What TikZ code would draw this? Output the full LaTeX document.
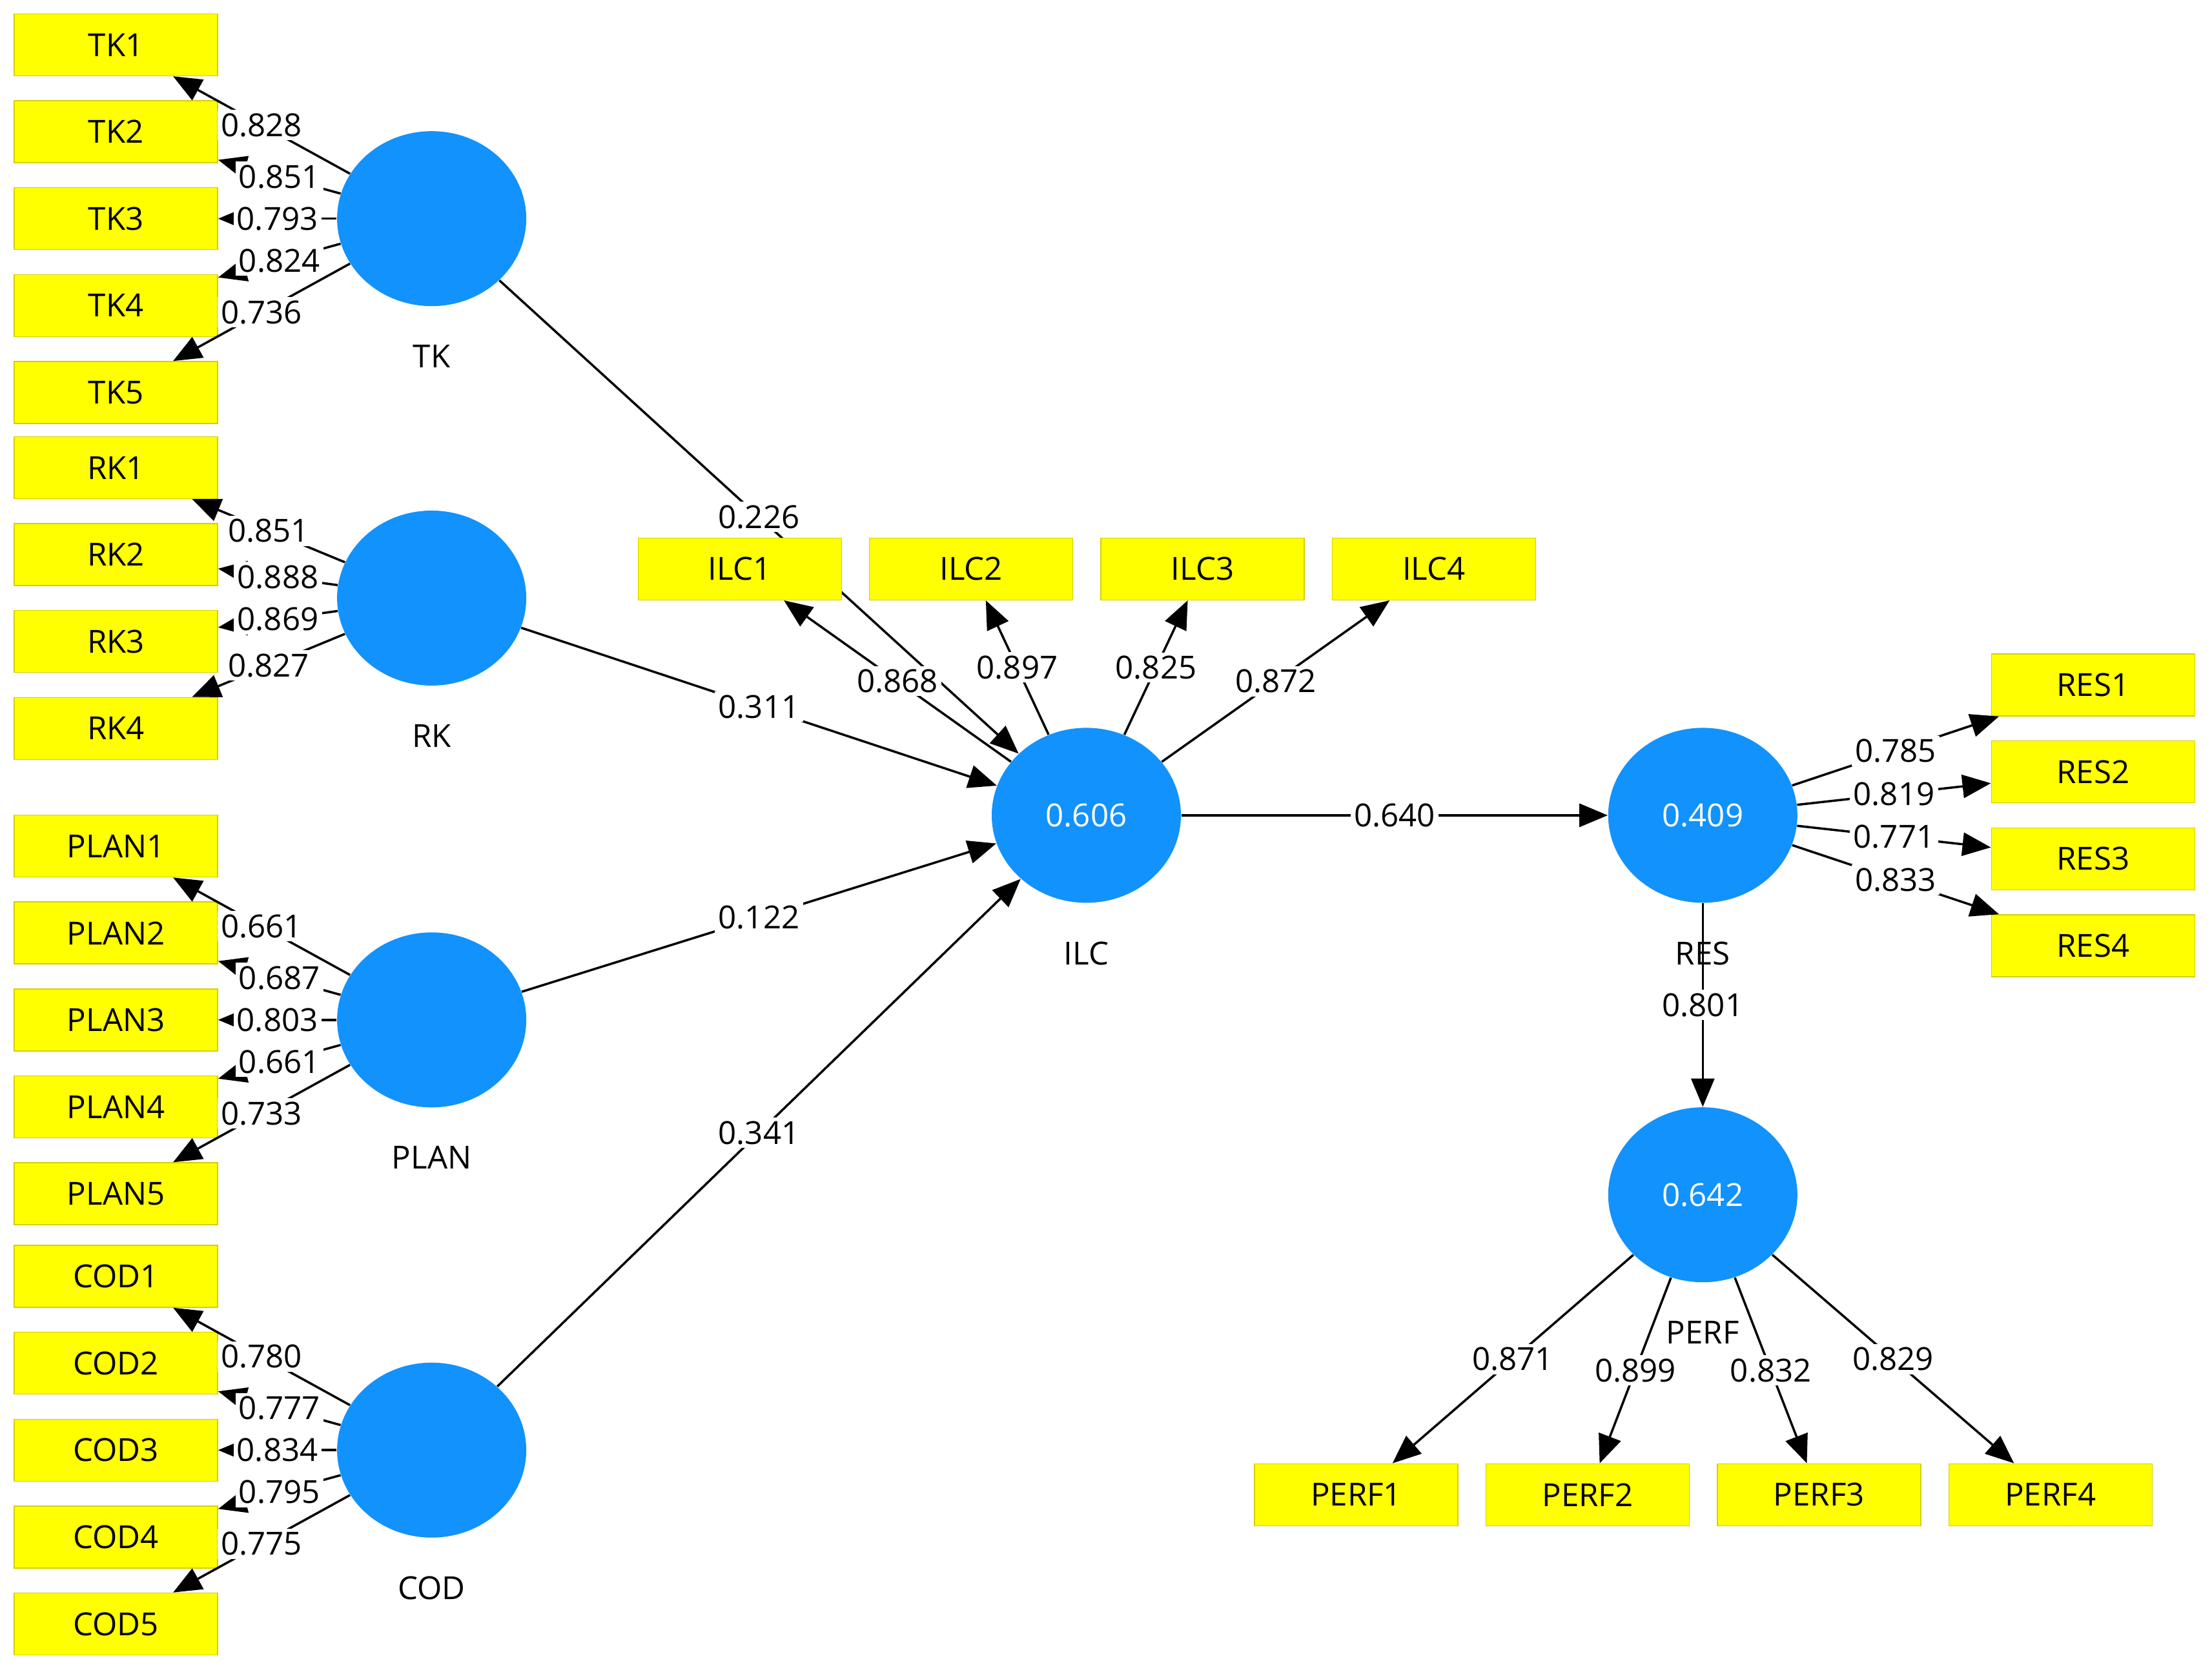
\documentclass[tikz,border=0pt]{standalone}
\usepackage{fontspec}
\setmainfont{Open Sans}
\usepackage{tikz}
\usetikzlibrary{shapes.geometric, arrows.meta, calc, positioning, backgrounds}
\definecolor{boxfill}{RGB}{255,255,0}
\definecolor{boxline}{RGB}{214,206,0}
\definecolor{lvblue}{RGB}{18,146,252}
\tikzstyle{indicator} = [rectangle, draw=boxline, fill=boxfill, minimum width=3.15cm, minimum height=0.96cm, inner sep=0pt, text centered]
\tikzstyle{construct} = [ellipse, fill=lvblue, minimum width=2.93cm, minimum height=2.71cm, inner sep=0pt, text=white]
\tikzstyle{arrow} = [line width=1pt, -{Triangle[length=4.4mm, width=3.6mm]}]
\tikzstyle{coef} = [fill=white, inner sep=1.5pt]

\begin{document}
\begin{tikzpicture}[node distance = 3.72mm, font=\fontsize{14}{17}\selectfont]
		\useasboundingbox (0,0) rectangle (34.26,-25.93);
		
		% latent variables
		\node (TK) [construct] at (6.686,-3.387) {};
		\node (RK) [construct] at (6.686,-9.264) {};
		\node (PLAN) [construct] at (6.686,-15.798) {};
		\node (COD) [construct] at (6.686,-22.462) {};
		\node (ILC) [construct] at (16.825,-12.629) {0.606};
		\node (RES) [construct] at (26.373,-12.629) {0.409};
		\node (PERF) [construct] at (26.373,-18.507) {0.642};
		
		\node [below = 0.47cm of TK] {TK};
		\node [below = 0.47cm of RK] {RK};
		\node [below = 0.47cm of PLAN] {PLAN};
		\node [below = 0.47cm of COD] {COD};
		\node [below = 0.47cm of ILC] {ILC};
		\node [below = 0.47cm of PERF] {PERF};
		
		% indicators TK
		\node (TK3) [indicator, left = 1.835cm of TK] {TK3};
		\node (TK2) [indicator, above = of TK3] {TK2};
		\node (TK1) [indicator, above = of TK2] {TK1};
		\node (TK4) [indicator, below = of TK3] {TK4};
		\node (TK5) [indicator, below = of TK4] {TK5};
		
		% indicators RK
		\node (RK2) [indicator, above left = 0.186cm and 1.835cm of RK.west] {RK2};
		\node (RK1) [indicator, above = of RK2] {RK1};
		\node (RK3) [indicator, below = of RK2] {RK3};
		\node (RK4) [indicator, below = of RK3] {RK4};
		
		% indicators PLAN
		\node (PLAN3) [indicator, left = 1.835cm of PLAN] {PLAN3};
		\node (PLAN2) [indicator, above = of PLAN3] {PLAN2};
		\node (PLAN1) [indicator, above = of PLAN2] {PLAN1};
		\node (PLAN4) [indicator, below = of PLAN3] {PLAN4};
		\node (PLAN5) [indicator, below = of PLAN4] {PLAN5};
		
		% indicators COD
		\node (COD3) [indicator, left = 1.835cm of COD] {COD3};
		\node (COD2) [indicator, above = of COD3] {COD2};
		\node (COD1) [indicator, above = of COD2] {COD1};
		\node (COD4) [indicator, below = of COD3] {COD4};
		\node (COD5) [indicator, below = of COD4] {COD5};
		
		% indicators ILC
		\node (ILC2) [indicator, above = 1.967cm of ILC, xshift=-1.784cm] {ILC2};
		\node (ILC1) [indicator, left = 0.42cm of ILC2] {ILC1};
		\node (ILC3) [indicator, right = 0.42cm of ILC2] {ILC3};
		\node (ILC4) [indicator, right = 0.42cm of ILC3] {ILC4};
		
		% indicators RES
		\node (RES2) [indicator, above right = 0.186cm and 2.99cm of RES.east] {RES2};
		\node (RES1) [indicator, above = of RES2] {RES1};
		\node (RES3) [indicator, below = of RES2] {RES3};
		\node (RES4) [indicator, below = of RES3] {RES4};
		
		% indicators PERF
		\node (PERF2) [indicator, below = 2.797cm of PERF, xshift=-1.784cm] {PERF2};
		\node (PERF1) [indicator, left = 0.42cm of PERF2] {PERF1};
		\node (PERF3) [indicator, right = 0.42cm of PERF2] {PERF3};
		\node (PERF4) [indicator, right = 0.42cm of PERF3] {PERF4};
		
		% structural paths
		\begin{scope}[on background layer]
		\draw [arrow] (TK) -- node[coef]{0.226} (ILC);
		\end{scope}
		\draw [arrow] (RK) -- node[coef]{0.311} (ILC);
		\draw [arrow] (PLAN) -- node[coef]{0.122} (ILC);
		\draw [arrow] (COD) -- node[coef]{0.341} (ILC);
		\draw [arrow] (ILC) -- node[coef]{0.640} (RES);
		\draw [arrow] (RES) -- node[coef]{0.801} (PERF);
		\node [below = 0.47cm of RES] {RES};
		
		% outer loadings
		\draw [arrow] (TK) -- node[coef]{0.828} (TK1);
		\draw [arrow] (TK) -- node[coef]{0.851} (TK2);
		\draw [arrow] (TK) -- node[coef]{0.793} (TK3);
		\draw [arrow] (TK) -- node[coef]{0.824} (TK4);
		\draw [arrow] (TK) -- node[coef]{0.736} (TK5);
		
		\draw [arrow] (RK) -- node[coef]{0.851} (RK1);
		\draw [arrow] (RK) -- node[coef]{0.888} (RK2);
		\draw [arrow] (RK) -- node[coef]{0.869} (RK3);
		\draw [arrow] (RK) -- node[coef]{0.827} (RK4);
		
		\draw [arrow] (PLAN) -- node[coef]{0.661} (PLAN1);
		\draw [arrow] (PLAN) -- node[coef]{0.687} (PLAN2);
		\draw [arrow] (PLAN) -- node[coef]{0.803} (PLAN3);
		\draw [arrow] (PLAN) -- node[coef]{0.661} (PLAN4);
		\draw [arrow] (PLAN) -- node[coef]{0.733} (PLAN5);
		
		\draw [arrow] (COD) -- node[coef]{0.780} (COD1);
		\draw [arrow] (COD) -- node[coef]{0.777} (COD2);
		\draw [arrow] (COD) -- node[coef]{0.834} (COD3);
		\draw [arrow] (COD) -- node[coef]{0.795} (COD4);
		\draw [arrow] (COD) -- node[coef]{0.775} (COD5);
		
		\draw [arrow] (ILC) -- node[coef]{0.868} (ILC1);
		\draw [arrow] (ILC) -- node[coef]{0.897} (ILC2);
		\draw [arrow] (ILC) -- node[coef]{0.825} (ILC3);
		\draw [arrow] (ILC) -- node[coef]{0.872} (ILC4);
		
		\draw [arrow] (RES) -- node[coef]{0.785} (RES1);
		\draw [arrow] (RES) -- node[coef]{0.819} (RES2);
		\draw [arrow] (RES) -- node[coef]{0.771} (RES3);
		\draw [arrow] (RES) -- node[coef]{0.833} (RES4);
		
		\draw [arrow] (PERF) -- node[coef]{0.871} (PERF1);
		\draw [arrow] (PERF) -- node[coef]{0.899} (PERF2);
		\draw [arrow] (PERF) -- node[coef]{0.832} (PERF3);
		\draw [arrow] (PERF) -- node[coef]{0.829} (PERF4);
		\end{tikzpicture}
\end{document}
